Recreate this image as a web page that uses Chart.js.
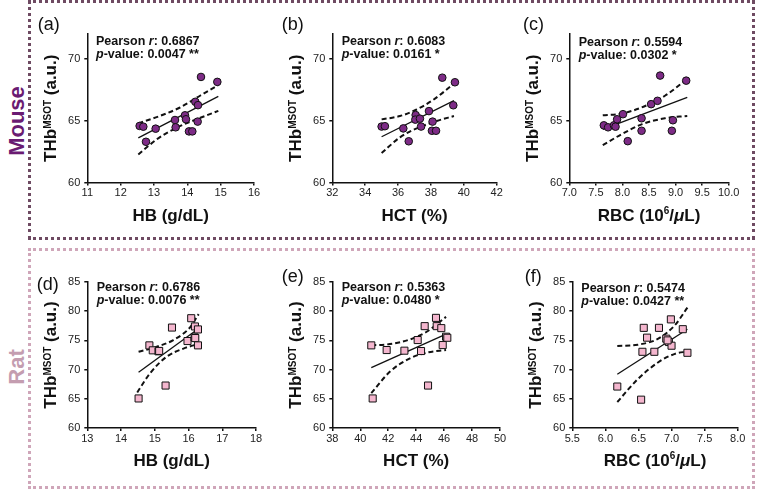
<!DOCTYPE html>
<html><head><meta charset="utf-8">
<script src="https://cdn.jsdelivr.net/npm/chart.js@4/dist/chart.umd.min.js"></script>
<style>
html,body{margin:0;padding:0;background:#fff;width:758px;height:492px;overflow:hidden;font-family:"Liberation Sans",Arial,sans-serif;}
.box{position:absolute;box-sizing:border-box;}
#mouseBox{left:28px;top:0px;width:727px;height:240px;border:3px dotted #6e4a62;}
#ratBox{left:28px;top:248px;width:727px;height:241px;border:3px dotted #cfa6b9;}
.grp{position:absolute;font-weight:bold;font-size:22px;transform:translate(-50%,-50%) rotate(-90deg);white-space:nowrap;line-height:1;}
canvas{position:absolute;}
</style></head>
<body>
<div id="mouseBox" class="box"></div>
<div id="ratBox" class="box"></div>
<div class="grp" style="left:17px;top:121px;color:#6a1b72">Mouse</div>
<div class="grp" style="left:17px;top:367px;color:#c49db0">Rat</div>
<script>
// ---------------- DATA ----------------
// (a) Mouse: HB vs THb
const aX = [12.57, 12.68, 12.76, 13.05, 13.63, 13.65, 13.93, 13.96, 14.05, 14.15, 14.24, 14.32, 14.31, 14.41, 14.90];
const aY = [64.57, 64.51, 63.29, 64.35, 65.05, 64.46, 65.43, 65.11, 64.13, 64.13, 66.52, 66.25, 64.92, 68.53, 68.13];
const aFitX = [12.53, 14.93], aFitY = [63.61, 66.96];
const aUpX = [12.53, 13.18, 13.78, 14.38, 14.93], aUpY = [64.78, 65.38, 66.06, 67.01, 67.88];
const aLoX = [12.53, 13.08, 13.68, 14.28, 14.93], aLoY = [62.26, 63.48, 64.43, 65.11, 65.79];
// (b) Mouse: HCT vs THb
const bX = [35.0, 35.2, 36.32, 36.65, 37.07, 37.05, 37.33, 37.4, 37.88, 38.1, 38.06, 38.31, 38.69, 39.36, 39.46];
const bY = [64.52, 64.55, 64.37, 63.33, 65.45, 65.08, 65.16, 64.52, 65.77, 64.92, 64.18, 64.18, 68.47, 66.24, 68.1];
const bFitX = [35.0, 39.4], bFitY = [63.7, 66.61];
const bUpX = [35.0, 36.12, 37.13, 38.15, 39.36], bUpY = [65.1, 65.37, 65.9, 66.69, 67.94];
const bLoX = [35.0, 36.12, 37.13, 38.35, 39.4], bLoY = [62.38, 63.65, 64.37, 64.97, 65.37];
// (c) Mouse: RBC vs THb
const cX = [7.65, 7.73, 7.84, 7.87, 7.9, 8.01, 8.1, 8.36, 8.36, 8.54, 8.66, 8.71, 8.95, 8.93, 9.2];
const cY = [64.62, 64.46, 64.62, 64.51, 65.11, 65.52, 63.34, 65.19, 64.18, 66.33, 66.6, 68.64, 65.03, 64.18, 68.23];
const cFitX = [7.63, 9.22], cFitY = [64.29, 66.88];
const cUpX = [7.63, 7.98, 8.36, 8.8, 9.22], cUpY = [65.43, 65.57, 66.06, 67.01, 68.37];
const cLoX = [7.63, 7.98, 8.36, 8.8, 9.22], cLoY = [63.02, 63.89, 64.7, 65.19, 65.38];
// (d) Rat: HB vs THb
const dX = [14.52, 14.84, 14.94, 15.11, 15.13, 15.32, 15.51, 15.97, 16.08, 16.18, 16.2, 16.19, 16.28, 16.28];
const dY = [65.06, 74.15, 73.3, 73.13, 73.2, 67.27, 77.2, 74.89, 78.8, 75.51, 75.4, 77.39, 76.88, 74.15];
const dFitX = [14.52, 16.3], dFitY = [69.55, 77.05];
const dUpX = [14.52, 15.06, 15.55, 16.04, 16.3], dUpY = [73.07, 73.92, 75.06, 77.2, 79.5];
const dLoX = [14.48, 14.86, 15.35, 15.85, 16.3], dLoY = [66.08, 69.38, 72.2, 73.6, 74.4];
// (e) Rat: HCT vs THb
const eX = [40.79, 40.89, 41.89, 43.16, 44.11, 44.35, 44.61, 44.85, 45.42, 45.47, 45.8, 45.9, 46.14, 46.23];
const eY = [74.15, 65.06, 73.35, 73.24, 75.06, 73.18, 77.44, 67.27, 78.86, 77.44, 77.1, 74.2, 75.63, 75.45];
const eFitX = [40.79, 46.14], eFitY = [70.34, 76.08];
const eUpX = [40.79, 42.13, 43.56, 44.75, 46.14], eUpY = [74.15, 74.38, 75.17, 76.48, 79.03];
const eLoX = [40.79, 42.13, 43.56, 44.75, 46.14], eLoY = [65.97, 69.66, 71.93, 72.9, 73.35];
// (f) Rat: RBC vs THb
const fX = [6.18, 6.54, 6.58, 6.56, 6.63, 6.74, 6.81, 6.92, 6.96, 6.99, 7.0, 7.17, 7.24, 6.94];
const fY = [67.1, 64.85, 77.15, 73.05, 75.47, 73.05, 77.15, 75.3, 74.72, 78.6, 74.09, 76.92, 72.88, 75.0];
const fFitX = [6.18, 7.24], fFitY = [69.2, 76.9];
const fUpX = [6.18, 6.49, 6.8, 7.05, 7.24], fUpY = [74.03, 74.26, 75.3, 77.6, 80.6];
const fLoX = [6.18, 6.49, 6.8, 7.05, 7.24], fLoY = [64.45, 68.37, 71.26, 72.7, 73.1];

// Tick labels
const mouseYTicks = [60, 65, 70];
const ratYTicks = [60, 65, 70, 75, 80, 85];
const aXTicks = [11, 12, 13, 14, 15, 16];
const bXTicks = [32, 34, 36, 38, 40, 42];
const cXTicks = [7.0, 7.5, 8.0, 8.5, 9.0, 9.5, 10.0];
const dXTicks = [13, 14, 15, 16, 17, 18];
const eXTicks = [38, 40, 42, 44, 46, 48, 50];
const fXTicks = [5.5, 6.0, 6.5, 7.0, 7.5, 8.0];

// Statistics text
const panelLabels = ['(a)', '(b)', '(c)', '(d)', '(e)', '(f)'];
const pearsonR = ['0.6867', '0.6083', '0.5594', '0.6786', '0.5363', '0.5474'];
const pValues = ['0.0047 **', '0.0161 *', '0.0302 *', '0.0076 **', '0.0480 *', '0.0427 **'];
const xTitleNames = ['HB (g/dL)', 'HCT (%)', 'RBC'];

// ---------------- LAYOUT / STYLE ----------------
const FONT = '"Liberation Sans", Arial, sans-serif';
const mouseStyle = {pointStyle: 'circle', radius: 3.8, fill: '#7d2b86'};
const ratStyle = {pointStyle: 'rect', radius: 5, fill: '#f4b6ce'};

function fnt(s) { return (s.italic ? 'italic ' : '') + (s.bold ? 'bold ' : '') + s.size + 'px ' + FONT; }
function drawRich(ctx, parts, x, y, align) {
  let total = 0;
  parts.forEach(s => { ctx.font = fnt(s); s._w = ctx.measureText(s.t).width; total += s._w; });
  let cx = align === 'center' ? x - total / 2 : x;
  ctx.textAlign = 'left';
  ctx.textBaseline = 'alphabetic';
  parts.forEach(s => { ctx.font = fnt(s); ctx.fillText(s.t, cx, y + (s.dy || 0)); cx += s._w; });
}
function xTitleParts(i) {
  const k = i % 3;
  if (k < 2) return [{t: xTitleNames[k], size: 17, bold: true}];
  return [
    {t: 'RBC (10', size: 17, bold: true},
    {t: '6', size: 10, bold: true, dy: -7},
    {t: '/', size: 17, bold: true},
    {t: '\u03BC', size: 17, bold: true, italic: true},
    {t: 'L)', size: 17, bold: true}
  ];
}
const yTitle = [
  {t: 'THb', size: 17, bold: true},
  {t: 'MSOT', size: 10, bold: true, dy: -5},
  {t: ' (a.u.)', size: 17, bold: true}
];

const panels = [
  {X: aX, Y: aY, fx: aFitX, fy: aFitY, ux: aUpX, uy: aUpY, lx: aLoX, ly: aLoY, xt: aXTicks, yt: mouseYTicks, xmin: 11, xmax: 16, ymin: 60, ymax: 72, dec: 0, st: mouseStyle,
   L: 87.3, R: 254, T: 34, B: 182.5, lab: [37.7, 30], sx: 96, sy: 44.5},
  {X: bX, Y: bY, fx: bFitX, fy: bFitY, ux: bUpX, uy: bUpY, lx: bLoX, ly: bLoY, xt: bXTicks, yt: mouseYTicks, xmin: 32, xmax: 42, ymin: 60, ymax: 72, dec: 0, st: mouseStyle,
   L: 332.3, R: 496.7, T: 34, B: 182.5, lab: [281.7, 30], sx: 341.7, sy: 44.5},
  {X: cX, Y: cY, fx: cFitX, fy: cFitY, ux: cUpX, uy: cUpY, lx: cLoX, ly: cLoY, xt: cXTicks, yt: mouseYTicks, xmin: 7, xmax: 10, ymin: 60, ymax: 72, dec: 1, st: mouseStyle,
   L: 569.3, R: 728.7, T: 34, B: 182.5, lab: [523, 30], sx: 578.7, sy: 45.5},
  {X: dX, Y: dY, fx: dFitX, fy: dFitY, ux: dUpX, uy: dUpY, lx: dLoX, ly: dLoY, xt: dXTicks, yt: ratYTicks, xmin: 13, xmax: 18, ymin: 60, ymax: 85, dec: 0, st: ratStyle,
   L: 87.3, R: 256, T: 282, B: 428, lab: [36.7, 289.5], sx: 96.7, sy: 291},
  {X: eX, Y: eY, fx: eFitX, fy: eFitY, ux: eUpX, uy: eUpY, lx: eLoX, ly: eLoY, xt: eXTicks, yt: ratYTicks, xmin: 38, xmax: 50, ymin: 60, ymax: 85, dec: 0, st: ratStyle,
   L: 332.3, R: 500, T: 282, B: 428, lab: [281.7, 281.5], sx: 341.7, sy: 291},
  {X: fX, Y: fY, fx: fFitX, fy: fFitY, ux: fUpX, uy: fUpY, lx: fLoX, ly: fLoY, xt: fXTicks, yt: ratYTicks, xmin: 5.5, xmax: 8, ymin: 60, ymax: 85, dec: 1, st: ratStyle,
   L: 572.3, R: 737.7, T: 282, B: 428, lab: [524.7, 281.5], sx: 581.3, sy: 292}
];

const zip = (xs, ys) => xs.map((x, i) => ({x: x, y: ys[i]}));

panels.forEach((p, i) => {
  const cl = Math.floor(p.L - 64), ct = Math.floor(p.T - 34);
  const W = Math.ceil(p.R - cl + 16), H = Math.ceil(p.B - ct + 52);
  const yW = p.L - cl, xH = ct + H - p.B;
  const padR = cl + W - p.R, padT = p.T - ct;
  const cv = document.createElement('canvas');
  cv.width = W; cv.height = H;
  cv.style.left = cl + 'px'; cv.style.top = ct + 'px';
  cv.style.width = W + 'px'; cv.style.height = H + 'px';
  document.body.appendChild(cv);

  const textPlugin = {
    id: 'panelText' + i,
    afterDraw(chart) {
      const ctx = chart.ctx, ca = chart.chartArea;
      ctx.save();
      ctx.fillStyle = '#111';
      drawRich(ctx, [{t: panelLabels[i], size: 18}], p.lab[0] - cl, p.lab[1] - ct, 'left');
      drawRich(ctx, [{t: 'Pearson ', size: 12.5, bold: true}, {t: 'r', size: 12.5, bold: true, italic: true}, {t: ': ' + pearsonR[i], size: 12.5, bold: true}], p.sx - cl, p.sy - ct, 'left');
      drawRich(ctx, [{t: 'p', size: 12.5, bold: true, italic: true}, {t: '-value: ' + pValues[i], size: 12.5, bold: true}], p.sx - cl, p.sy - ct + 13.3, 'left');
      drawRich(ctx, xTitleParts(i), (ca.left + ca.right) / 2, ca.bottom + 38, 'center');
      ctx.translate(ca.left - 37, (ca.top + ca.bottom) / 2);
      ctx.rotate(-Math.PI / 2);
      drawRich(ctx, yTitle, 0, 6, 'center');
      ctx.restore();
    }
  };

  new Chart(cv, {
    type: 'scatter',
    data: {
      datasets: [
        {data: zip(p.X, p.Y), pointStyle: p.st.pointStyle, pointRadius: p.st.radius, pointBackgroundColor: p.st.fill,
         pointBorderColor: '#111', pointBorderWidth: 1, showLine: false},
        {type: 'line', data: zip(p.fx, p.fy), borderColor: '#111', borderWidth: 1.3, pointRadius: 0, fill: false},
        {type: 'line', data: zip(p.ux, p.uy), borderColor: '#111', borderWidth: 2, borderDash: [5, 3], pointRadius: 0, fill: false, cubicInterpolationMode: 'monotone'},
        {type: 'line', data: zip(p.lx, p.ly), borderColor: '#111', borderWidth: 2, borderDash: [5, 3], pointRadius: 0, fill: false, cubicInterpolationMode: 'monotone'}
      ]
    },
    options: {
      responsive: false, animation: false, devicePixelRatio: 1,
      layout: {padding: {left: 0, top: padT, right: padR, bottom: 0}},
      plugins: {legend: {display: false}, tooltip: {enabled: false}},
      scales: {
        x: {
          type: 'linear', min: p.xmin, max: p.xmax,
          afterBuildTicks: s => { s.ticks = p.xt.map(v => ({value: v})); },
          afterFit: s => { s.height = xH; s.paddingLeft = 0; s.paddingRight = 0; },
          ticks: {font: {family: FONT, size: 11}, color: '#222', padding: 1, maxRotation: 0, autoSkip: false,
                  callback: v => Number(v).toFixed(p.dec)},
          grid: {drawOnChartArea: false, drawTicks: true, tickLength: 3, color: '#111', lineWidth: 1.5},
          border: {display: true, color: '#111', width: 1.5}
        },
        y: {
          type: 'linear', min: p.ymin, max: p.ymax,
          afterBuildTicks: s => { s.ticks = p.yt.map(v => ({value: v})); },
          afterFit: s => { s.width = yW; s.paddingTop = 0; s.paddingBottom = 0; },
          ticks: {font: {family: FONT, size: 11}, color: '#222', padding: 4, autoSkip: false},
          grid: {drawOnChartArea: false, drawTicks: true, tickLength: 3, color: '#111', lineWidth: 1.5},
          border: {display: true, color: '#111', width: 1.5}
        }
      }
    },
    plugins: [textPlugin]
  });
});
</script>
</body></html>
